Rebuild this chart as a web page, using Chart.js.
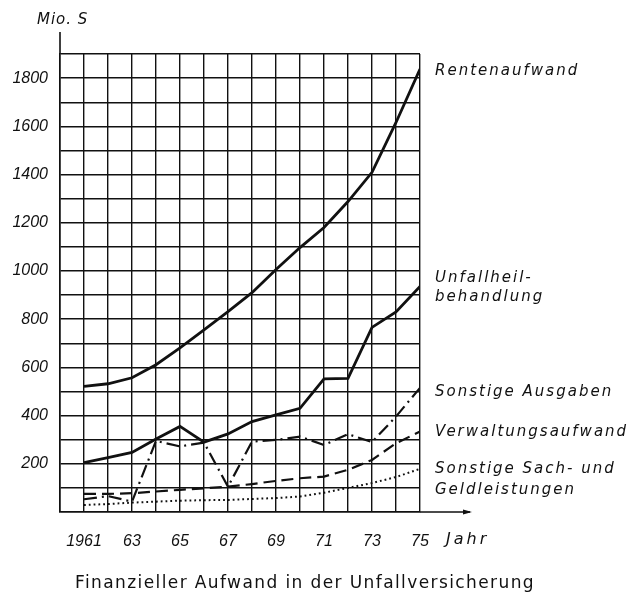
<!DOCTYPE html>
<html>
<head>
<meta charset="utf-8">
<script src="https://cdn.jsdelivr.net/npm/chart.js@4.4.1/dist/chart.umd.min.js"></script>
<style>
  html, body { margin: 0; padding: 0; background: #fff; }
  #wrap { position: relative; width: 628px; height: 592px; }
  canvas { position: absolute; left: 0; top: 0; }
  .lbl { position: absolute; font-family: "DejaVu Sans", sans-serif; font-style: italic; font-size: 15px; letter-spacing: 2px; color: #111; white-space: nowrap; line-height: 19px; }
  #caption { position: absolute; left: 75px; top: 572px; font-family: "DejaVu Sans", sans-serif; font-size: 17px; letter-spacing: 1.4px; line-height: 20px; color: #111; white-space: nowrap; }
</style>
</head>
<body>
<div id="wrap">
  <canvas id="c" width="628" height="592"></canvas>
  <div class="lbl" style="left:37px;top:10px;letter-spacing:1px;">Mio. S</div>
  <div class="lbl" style="left:435px;top:61px;">Rentenaufwand</div>
  <div class="lbl" style="left:435px;top:268px;">Unfallheil-<br>behandlung</div>
  <div class="lbl" style="left:435px;top:382px;">Sonstige Ausgaben</div>
  <div class="lbl" style="left:435px;top:422px;">Verwaltungsaufwand</div>
  <div class="lbl" style="left:435px;top:458px;line-height:21px;">Sonstige Sach- und<br>Geldleistungen</div>
  <div class="lbl" style="left:446px;top:529px;font-size:16px;letter-spacing:3px;">Jahr</div>
  <div id="caption">Finanzieller Aufwand in der Unfallversicherung</div>
</div>
<script>
const years = [1961, 1962, 1963, 1964, 1965, 1966, 1967, 1968, 1969, 1970, 1971, 1972, 1973, 1974, 1975];
const rentenaufwand = [521, 532, 557, 611, 681, 756, 831, 910, 1006, 1097, 1180, 1288, 1409, 1616, 1837];
const unfallheilbehandlung = [205, 226, 247, 303, 355, 290, 324, 375, 403, 430, 552, 554, 766, 830, 936];
const sonstigeAusgaben = [53, 66, 43, 295, 272, 288, 105, 292, 299, 313, 278, 323, 290, 396, 515];
const verwaltungsaufwand = [75, 75, 78, 85, 92, 98, 105, 116, 129, 140, 147, 175, 216, 285, 334];
const sachGeldleistungen = [29, 33, 39, 43, 47, 49, 50, 54, 58, 64, 80, 100, 120, 145, 179];
const xTickYears = [1961, 1963, 1965, 1967, 1969, 1971, 1973, 1975];
const yTickValues = [200, 400, 600, 800, 1000, 1200, 1400, 1600, 1800];

const pts = arr => years.map((y, i) => ({ x: y, y: arr[i] }));
const ink = '#111';

const axisExtras = {
  id: 'axisExtras',
  afterDraw(chart) {
    const { ctx, chartArea } = chart;
    ctx.save();
    ctx.strokeStyle = ink;
    ctx.lineWidth = 1.6;
    ctx.beginPath();
    ctx.moveTo(chartArea.left, chartArea.top);
    ctx.lineTo(chartArea.left, chartArea.top - 22);
    ctx.moveTo(chartArea.right, chartArea.bottom);
    ctx.lineTo(chartArea.right + 50, chartArea.bottom);
    ctx.stroke();
    ctx.fillStyle = ink;
    ctx.beginPath();
    ctx.moveTo(chartArea.right + 52, chartArea.bottom);
    ctx.lineTo(chartArea.right + 43, chartArea.bottom - 2.5);
    ctx.lineTo(chartArea.right + 43, chartArea.bottom + 2.5);
    ctx.closePath();
    ctx.fill();
    ctx.restore();
  }
};

const ds = (label, data, width, dash) => ({
  label, data: pts(data), borderColor: ink, borderWidth: width, borderDash: dash,
  pointRadius: 0, tension: 0, fill: false
});

new Chart(document.getElementById('c'), {
  type: 'line',
  data: {
    datasets: [
      ds('Rentenaufwand', rentenaufwand, 2.8, []),
      ds('Unfallheilbehandlung', unfallheilbehandlung, 2.8, []),
      ds('Sonstige Ausgaben', sonstigeAusgaben, 2.2, [13, 5, 2, 5]),
      ds('Verwaltungsaufwand', verwaltungsaufwand, 2.2, [12, 6]),
      ds('Sonstige Sach- und Geldleistungen', sachGeldleistungen, 2, [1.8, 3])
    ]
  },
  options: {
    responsive: false,
    animation: false,
    layout: { padding: { left: 0, top: 54, right: 208, bottom: 0 } },
    plugins: { legend: { display: false }, tooltip: { enabled: false } },
    scales: {
      x: {
        type: 'linear', min: 1960, max: 1975,
        afterFit: s => { s.height = 80; },
        afterBuildTicks: s => { s.ticks = []; for (let y = 1960; y <= 1975; y++) s.ticks.push({ value: y }); },
        grid: { color: ink, lineWidth: 1.4, drawTicks: false },
        border: { color: ink, width: 1.6 },
        ticks: {
          padding: 20, color: ink, maxRotation: 0, autoSkip: false,
          font: { family: '"Liberation Sans", Arial, sans-serif', style: 'italic', size: 16 },
          callback: v => xTickYears.includes(v) ? (v === 1961 ? '1961' : String(v).slice(2)) : ''
        }
      },
      y: {
        min: 0, max: 1900,
        afterFit: s => { s.width = 60; },
        afterBuildTicks: s => { s.ticks = []; for (let v = 0; v <= 1900; v += 100) s.ticks.push({ value: v }); },
        grid: { color: ink, lineWidth: 1.4, drawTicks: false },
        border: { color: ink, width: 1.6 },
        ticks: {
          padding: 12, color: ink, autoSkip: false,
          font: { family: '"Liberation Sans", Arial, sans-serif', style: 'italic', size: 16 },
          callback: v => yTickValues.includes(v) ? String(v) : ''
        }
      }
    }
  },
  plugins: [axisExtras]
});
</script>
</body>
</html>
